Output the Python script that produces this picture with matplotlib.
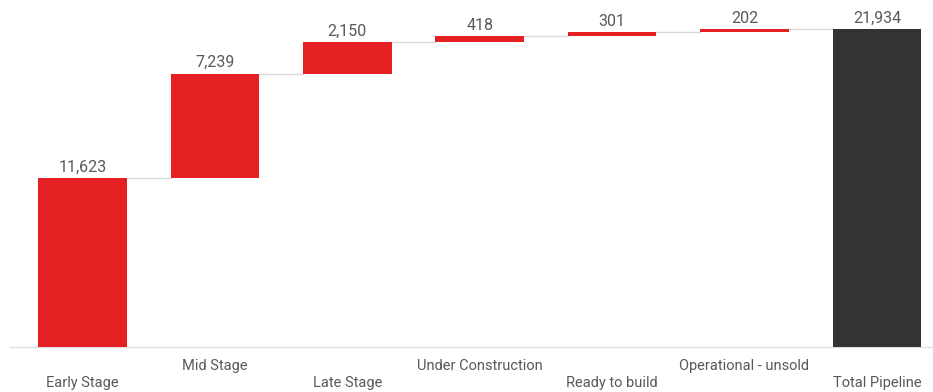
import matplotlib
matplotlib.use("Agg")
import matplotlib.pyplot as plt
import numpy as np

plt.rcParams['font.family'] = ['Roboto', 'DejaVu Sans']

categories = ["Early Stage", "Mid Stage", "Late Stage", "Under Construction",
              "Ready to build", "Operational - unsold", "Total Pipeline"]
steps = [11623, 7239, 2150, 418, 301, 202]
total = 21934

red = "#e52022"
dark = "#333333"

# bottoms for the floating bars
bottoms = list(np.concatenate([[0], np.cumsum(steps)[:-1]]))
heights = steps + [total]
bottoms = bottoms + [0]
colors = [red] * len(steps) + [dark]

fig = plt.figure(figsize=(9.33, 3.92), dpi=100)
ax = fig.add_axes([10 / 933, 45 / 392, 923 / 933, 347 / 392])

x = np.arange(len(categories))
w = 0.67
ax.bar(x, heights, bottom=bottoms, width=w, color=colors, zorder=3)

# connector lines between bars
tops = [b + h for b, h in zip(bottoms, heights)]
for i in range(len(categories) - 1):
    ax.plot([x[i] + w / 2, x[i + 1] - w / 2], [tops[i], tops[i]],
            color="#d9d9d9", lw=1, zorder=2)

# value labels
for i, v in enumerate(heights):
    ax.text(x[i], tops[i] + 230, f"{v:,}", ha="center", va="bottom",
            fontsize=11.5, color="#595959")

ax.set_xlim(-0.548, 6.424)
ax.set_ylim(0, 23934)
ax.set_yticks([])
ax.set_xticks([])
for s in ["top", "right", "left"]:
    ax.spines[s].set_visible(False)
ax.spines["bottom"].set_color("#e0e0e0")
ax.spines["bottom"].set_linewidth(1)

# staggered category labels
for i, c in enumerate(categories):
    y = -0.0545 if i % 2 == 1 else -0.105
    ax.text(x[i], y, c, transform=ax.get_xaxis_transform(), ha="center",
            va="center", fontsize=10.5, color="#595959")

fig.savefig("out.png", dpi=100)
